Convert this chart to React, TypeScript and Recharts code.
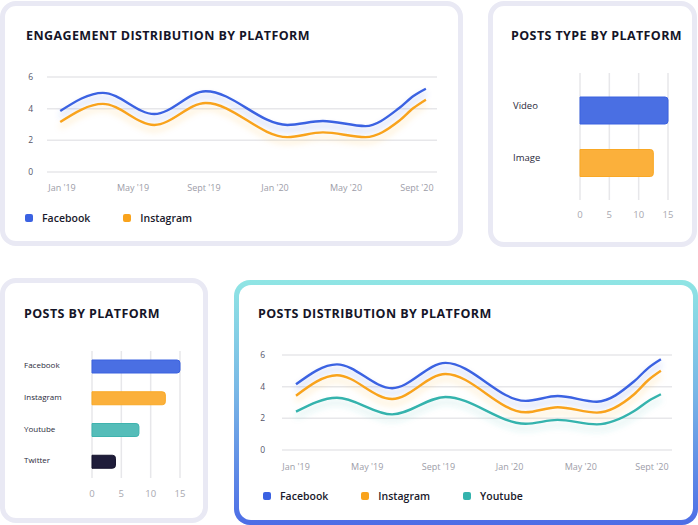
import { LineChart, Line, BarChart, Bar, Cell, XAxis, YAxis, CartesianGrid } from 'recharts';

const FONT = '"Open Sans", Lato, sans-serif';

// month index (0 = Jan '19) of each point on the trend lines
const engMonths = [-0.1, 2.3, 5.2, 8.1, 12.7, 14.7, 17.1, 19.0, 19.8, 20.5];
const engFacebook = [3.85, 5.0, 3.66, 5.1, 2.97, 3.22, 2.9, 4.04, 4.8, 5.26];
const engInstagram = [3.16, 4.3, 2.97, 4.36, 2.2, 2.5, 2.2, 3.24, 4.04, 4.57];

const distMonths = [0, 2.3, 5.4, 8.4, 12.9, 14.7, 16.9, 19.0, 19.8, 20.5];
const distFacebook = [4.15, 5.41, 3.9, 5.5, 3.1, 3.41, 3.05, 4.34, 5.19, 5.73];
const distInstagram = [3.43, 4.72, 3.22, 4.8, 2.38, 2.7, 2.36, 3.52, 4.42, 5.0];
const distYoutube = [2.42, 3.3, 2.25, 3.35, 1.66, 1.9, 1.62, 2.46, 3.1, 3.52];

const monthTicks = [0, 4, 8, 12, 16, 20];
const monthLabels = ["Jan '19", "May '19", "Sept '19", "Jan '20", "May '20", "Sept '20"];
const valueTicks = [0, 2, 4, 6];

const postTypes = ['Video', 'Image'];
const postTypeCounts = [15, 12.5];

const platforms = ['Facebook', 'Instagram', 'Youtube', 'Twitter'];
const platformPosts = [15, 12.5, 8, 4];
const countTicks = [0, 5, 10, 15];

const LINE = { Facebook: '#3b62e2', Instagram: '#f9a31c', Youtube: '#34b3ad' };
const BAR_FILL = ['#4a6fe3', '#fbb03b', '#55bdb9', '#1f1d3a'];
const BAR_EDGE = ['#3b62e0', '#f9a825', '#3fb3ae', '#15132c'];

const engData = engMonths.map((m, i) => ({ m, Facebook: engFacebook[i], Instagram: engInstagram[i] }));
const distData = distMonths.map((m, i) => ({
  m,
  Facebook: distFacebook[i],
  Instagram: distInstagram[i],
  Youtube: distYoutube[i],
}));
const typeData = postTypes.map((name, i) => ({ name, value: postTypeCounts[i] }));
const platformData = platforms.map((name, i) => ({ name, value: platformPosts[i] }));

const tickFont = { fontFamily: FONT };

function Card({ x, y, w, h, glow }: { x: number; y: number; w: number; h: number; glow?: boolean }) {
  if (glow) {
    return (
      <div
        style={{
          position: 'absolute',
          left: x,
          top: y,
          width: w,
          height: h,
          borderRadius: 16,
          background: 'linear-gradient(180deg, #8fe5e4 0%, #79b8e6 45%, #4d6de6 100%)',
        }}
      >
        <div style={{ position: 'absolute', inset: 5, borderRadius: 12, background: '#fff' }} />
      </div>
    );
  }
  return (
    <div
      style={{
        position: 'absolute',
        left: x,
        top: y,
        width: w,
        height: h,
        boxSizing: 'border-box',
        border: '5px solid #e9e9f4',
        borderRadius: 16,
        background: '#fff',
      }}
    />
  );
}

function Title({ x, y, text }: { x: number; y: number; text: string }) {
  return (
    <div
      style={{
        position: 'absolute',
        left: x,
        top: y,
        fontFamily: FONT,
        fontWeight: 700,
        fontSize: 12.5,
        lineHeight: 1,
        letterSpacing: 0.4,
        color: '#151528',
        whiteSpace: 'nowrap',
      }}
    >
      {text}
    </div>
  );
}

function LegendRow({ x, y, names }: { x: number; y: number; names: (keyof typeof LINE)[] }) {
  return (
    <div style={{ position: 'absolute', left: x, top: y, display: 'flex', alignItems: 'center', height: 14 }}>
      {names.map((n) => (
        <div key={n} style={{ display: 'flex', alignItems: 'center', marginRight: 33 }}>
          <span style={{ width: 8, height: 8, borderRadius: 2, background: LINE[n], marginRight: 9 }} />
          <span style={{ fontFamily: FONT, fontSize: 10.5, fontWeight: 600, color: '#1a1a2c' }}>{n}</span>
        </div>
      ))}
    </div>
  );
}

function TrendChart({
  id,
  x,
  y,
  data,
  names,
  yAxisWidth,
  yTickMargin,
  xTickMargin,
  xDomain,
}: {
  id: string;
  x: number;
  y: number;
  data: any[];
  names: (keyof typeof LINE)[];
  yAxisWidth: number;
  yTickMargin: number;
  xTickMargin: number;
  xDomain: [number, number];
}) {
  return (
    <div style={{ position: 'absolute', left: x, top: y }}>
      <LineChart width={yAxisWidth + 390} height={142} data={data} margin={{ top: 17, right: 0, bottom: 0, left: 0 }}>
        <defs>
          {names.map((n) => (
            <filter key={n} id={`${id}-glow-${n}`} x="-5%" y="-50%" width="110%" height="220%">
              <feDropShadow
                dx="0"
                dy="5"
                stdDeviation="3"
                floodColor={LINE[n]}
                floodOpacity={n === 'Facebook' ? 0.35 : 0.28}
              />
            </filter>
          ))}
        </defs>
        <CartesianGrid vertical={false} stroke="#e7e7ea" strokeWidth={1.5} />
        <XAxis
          dataKey="m"
          type="number"
          domain={xDomain}
          ticks={monthTicks}
          interval={0}
          tickFormatter={(v) => monthLabels[monthTicks.indexOf(v)]}
          axisLine={false}
          tickLine={false}
          tickSize={0}
          tickMargin={xTickMargin}
          height={30}
          tick={{ ...tickFont, fontSize: 9, fill: '#9d9da8' }}
        />
        <YAxis
          type="number"
          domain={[0, 6]}
          ticks={valueTicks}
          interval={0}
          axisLine={false}
          tickLine={false}
          tickSize={0}
          tickMargin={yTickMargin}
          width={yAxisWidth}
          tick={{ ...tickFont, fontSize: 8.5, fill: '#55556a' }}
        />
        {names.map((n) => (
          <Line
            key={n}
            type="monotone"
            dataKey={n}
            stroke={LINE[n]}
            strokeWidth={2.4}
            dot={false}
            activeDot={false}
            filter={`url(#${id}-glow-${n})`}
            isAnimationActive={false}
          />
        ))}
      </LineChart>
    </div>
  );
}

function HBarChart({
  x,
  y,
  data,
  height,
  barSize,
  labelX,
  labelSize,
  labelDy,
  padding,
  xTickMargin,
}: {
  x: number;
  y: number;
  data: { name: string; value: number }[];
  height: number;
  barSize: number;
  labelX: number;
  labelSize: number;
  labelDy: number;
  padding: number;
  xTickMargin: number;
}) {
  const renderLabel = (props: any) => (
    <text
      x={labelX}
      y={props.y}
      dy={labelDy}
      textAnchor="start"
      dominantBaseline="middle"
      fontFamily={FONT}
      fontSize={labelSize}
      fill="#2a2a3a"
    >
      {props.payload.value}
    </text>
  );
  return (
    <div style={{ position: 'absolute', left: x, top: y }}>
      <BarChart
        layout="vertical"
        width={190}
        height={height}
        data={data}
        margin={{ top: 13, right: 10, bottom: 0, left: 0 }}
      >
        <CartesianGrid horizontal={false} stroke="#e7e7ea" strokeWidth={1.5} />
        <XAxis
          type="number"
          domain={[0, 15]}
          ticks={countTicks}
          interval={0}
          axisLine={false}
          tickLine={false}
          tickSize={0}
          tickMargin={xTickMargin}
          height={25}
          tick={{ ...tickFont, fontSize: 9.5, fill: '#a8a8b0' }}
        />
        <YAxis
          type="category"
          dataKey="name"
          width={92}
          axisLine={false}
          tickLine={false}
          padding={{ top: padding, bottom: padding }}
          tick={renderLabel}
        />
        <Bar dataKey="value" barSize={barSize} radius={[0, 3, 3, 0]} strokeWidth={1} isAnimationActive={false}>
          {data.map((d, i) => (
            <Cell key={d.name} fill={BAR_FILL[i]} stroke={BAR_EDGE[i]} />
          ))}
        </Bar>
      </BarChart>
    </div>
  );
}

export default function App() {
  return (
    <div style={{ position: 'absolute', left: 0, top: 0, width: 698, height: 525, background: '#fff', overflow: 'hidden' }}>
      <Card x={0} y={1} w={463} h={245} />
      <Card x={488} y={1} w={209} h={246} />
      <Card x={0} y={278} w={208} h={245} />
      <Card x={234} y={280} w={464} h={245} glow />

      <Title x={26} y={29.5} text="ENGAGEMENT DISTRIBUTION BY PLATFORM" />
      <Title x={511} y={30} text="POSTS TYPE BY PLATFORM" />
      <Title x={24} y={308} text="POSTS BY PLATFORM" />
      <Title x={258} y={308} text="POSTS DISTRIBUTION BY PLATFORM" />

      <TrendChart
        id="eng"
        x={0}
        y={60}
        data={engData}
        names={['Facebook', 'Instagram']}
        yAxisWidth={47}
        yTickMargin={14}
        xTickMargin={13}
        xDomain={[-0.845, 21.127]}
      />
      <LegendRow x={25} y={211} names={['Facebook', 'Instagram']} />

      <HBarChart
        x={488}
        y={60}
        data={typeData}
        height={165}
        barSize={27}
        labelX={25}
        labelSize={9.5}
        labelDy={-4}
        padding={11}
        xTickMargin={11}
      />

      <HBarChart
        x={0}
        y={338}
        data={platformData}
        height={165}
        barSize={13}
        labelX={24}
        labelSize={8}
        labelDy={-1}
        padding={0}
        xTickMargin={12}
      />

      <TrendChart
        id="dist"
        x={234}
        y={338}
        data={distData}
        names={['Facebook', 'Instagram', 'Youtube']}
        yAxisWidth={48}
        yTickMargin={17}
        xTickMargin={14}
        xDomain={[-0.787, 21.124]}
      />
      <LegendRow x={263} y={489} names={['Facebook', 'Instagram', 'Youtube']} />
    </div>
  );
}
